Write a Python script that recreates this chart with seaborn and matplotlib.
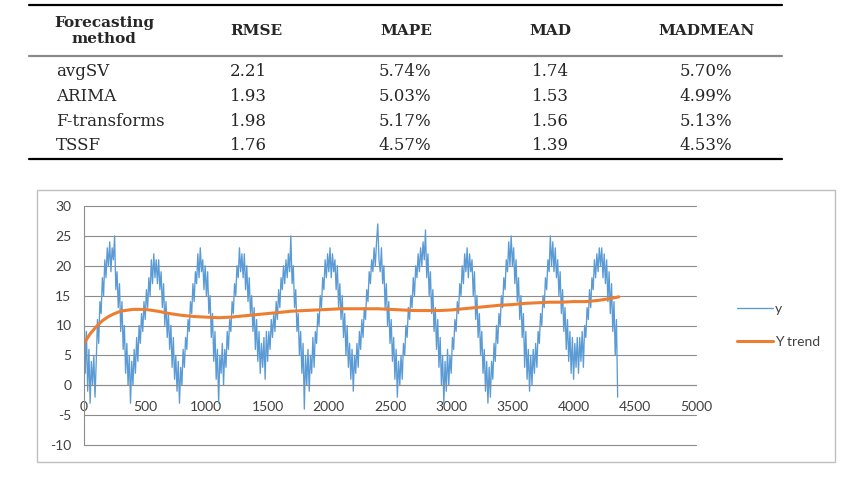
import matplotlib
matplotlib.use("Agg")
import matplotlib.pyplot as plt
from matplotlib.patches import Rectangle
import numpy as np
import pandas as pd
import seaborn as sns

# ---------------- table data ----------------
headers = ["Forecasting\nmethod", "RMSE", "MAPE", "MAD", "MADMEAN"]
methods = ["avgSV", "ARIMA", "F-transforms", "TSSF"]
rmse = ["2.21", "1.93", "1.98", "1.76"]
mape = ["5.74%", "5.03%", "5.17%", "4.57%"]
mad = ["1.74", "1.53", "1.56", "1.39"]
madmean = ["5.70%", "4.99%", "5.13%", "4.53%"]

# ---------------- chart data ----------------
# y every 10 steps (0 .. 4360), one row per 100 steps
step = 10
y_values = [
    13, 2, 9, -1, 6, -3, 4, 0, 5, -2,
    4, 11, 7, 14, 12, 18, 15, 21, 18, 23,
    20, 24, 19, 23, 21, 25, 16, 19, 13, 17,
    9, 14, 6, 10, 2, 7, 0, 5, -3, 4,
    0, 6, 2, 8, 4, 10, 7, 12, 9, 14,
    11, 16, 13, 18, 15, 21, 17, 22, 18, 21,
    17, 21, 16, 19, 13, 17, 10, 14, 8, 12,
    6, 10, 3, 8, 1, 5, -1, 4, -3, 3,
    0, 6, 3, 8, 6, 11, 9, 14, 12, 17,
    14, 19, 17, 22, 18, 23, 19, 21, 16, 20,
    15, 19, 12, 15, 8, 12, 4, 9, 1, 6,
    -3, 5, 2, 7, 0, 6, 3, 9, 6, 11,
    9, 14, 12, 17, 15, 20, 18, 23, 19, 22,
    18, 22, 16, 20, 14, 18, 12, 15, 9, 13,
    6, 11, 4, 9, 2, 7, 3, 8, 1, 9,
    4, 9, 6, 11, 8, 12, 9, 14, 11, 16,
    13, 18, 16, 20, 17, 21, 18, 22, 19, 25,
    17, 20, 13, 16, 9, 12, 5, 9, 2, 7,
    -4, 5, 0, 6, -1, 5, 2, 8, 3, 9,
    7, 12, 10, 15, 13, 18, 16, 21, 18, 22,
    19, 23, 18, 22, 19, 21, 16, 20, 13, 17,
    11, 15, 8, 12, 5, 10, 3, 7, 1, 6,
    -1, 5, 2, 7, 3, 9, 6, 11, 8, 13,
    11, 16, 14, 19, 17, 21, 19, 23, 20, 24,
    27, 21, 19, 23, 17, 20, 13, 17, 10, 14,
    7, 11, 4, 8, 1, 6, -2, 4, 0, 5,
    1, 7, 5, 10, 8, 13, 11, 15, 13, 18,
    15, 20, 18, 22, 19, 23, 20, 24, 21, 26,
    18, 22, 15, 19, 12, 16, 9, 13, 6, 11,
    3, 8, 0, 5, -3, 4, -1, 6, 0, 5,
    2, 8, 6, 11, 9, 14, 12, 17, 15, 20,
    17, 22, 19, 23, 18, 22, 19, 21, 15, 19,
    11, 15, 8, 12, 5, 9, 2, 6, -1, 4,
    -3, 3, -2, 4, 1, 7, 4, 10, 7, 12,
    10, 15, 13, 18, 16, 21, 19, 24, 20, 25,
    20, 23, 17, 21, 14, 18, 11, 15, 8, 12,
    3, 9, 1, 6, -1, 5, 0, 6, 2, 7,
    3, 9, 7, 12, 10, 15, 13, 18, 16, 21,
    19, 25, 20, 24, 19, 23, 18, 21, 15, 19,
    12, 16, 9, 13, 6, 11, 4, 9, 2, 8,
    1, 7, 3, 8, 2, 8, 4, 9, 3, 10,
    8, 13, 11, 16, 13, 18, 16, 21, 18, 22,
    19, 23, 20, 23, 18, 22, 17, 21, 14, 19,
    12, 17, 9, 14, 5, 11, -2,
]
x_values = np.arange(len(y_values)) * step

trend_x = [0, 50, 100, 150, 200, 250, 300, 400, 500, 600, 700, 800, 900, 1000,
           1100, 1200, 1300, 1400, 1500, 1600, 1700, 1800, 1900, 2000, 2100,
           2200, 2300, 2400, 2500, 2600, 2700, 2800, 2900, 3000, 3100, 3200,
           3300, 3400, 3500, 3600, 3700, 3800, 3900, 4000, 4100, 4200, 4300, 4370]
trend_y = [7.0, 8.6, 9.8, 10.8, 11.5, 12.0, 12.4, 12.7, 12.7, 12.4, 12.0, 11.7,
           11.5, 11.4, 11.3, 11.4, 11.6, 11.8, 12.0, 12.2, 12.4, 12.5, 12.6,
           12.7, 12.8, 12.8, 12.8, 12.8, 12.7, 12.6, 12.5, 12.5, 12.5, 12.6,
           12.8, 13.0, 13.2, 13.4, 13.5, 13.7, 13.8, 13.9, 13.9, 14.0, 14.0,
           14.2, 14.5, 14.8]

df_y = pd.DataFrame({"x": x_values, "y": y_values})
df_t = pd.DataFrame({"x": trend_x, "y": trend_y})

sns.set_style("white")
plt.rcParams["font.family"] = ["Lato", "DejaVu Sans"]
plt.rcParams["axes.unicode_minus"] = False

W, H = 850, 478
fig = plt.figure(figsize=(W / 100, H / 100), dpi=100)

# ---------------- table (pixel coordinates) ----------------
tab = fig.add_axes([0, 0, 1, 1])
tab.set_xlim(0, W)
tab.set_ylim(H, 0)
tab.axis("off")
serif = ["DejaVu Serif"]
tab.plot([29, 782], [5, 5], color="black", lw=1.6)
tab.plot([29, 782], [56, 56], color="#8a8a8a", lw=1.6)
tab.plot([29, 782], [159, 159], color="black", lw=1.6)

head_x = [104, 256, 406, 550, 707]
for hx, h in zip(head_x, headers):
    tab.text(hx, 31, h, ha="center", va="center", family=serif,
             fontweight="bold", fontsize=11, linespacing=1.25)

row_y = [71, 96, 121, 146]
for i, ry in enumerate(row_y):
    tab.text(56, ry, methods[i], ha="left", va="center", family=serif, fontsize=12)
    tab.text(230, ry, rmse[i], ha="left", va="center", family=serif, fontsize=12)
    tab.text(405, ry, mape[i], ha="center", va="center", family=serif, fontsize=12)
    tab.text(532, ry, mad[i], ha="left", va="center", family=serif, fontsize=12)
    tab.text(706, ry, madmean[i], ha="center", va="center", family=serif, fontsize=12)

# chart border
fig.patches.append(Rectangle((37 / W, 1 - 462 / H), (835 - 37) / W, (462 - 190) / H,
                             transform=fig.transFigure, fill=False,
                             ec="#bfbfbf", lw=1))

# ---------------- line chart ----------------
ax = fig.add_axes([84 / W, 1 - 445 / H, (696 - 84) / W, (445 - 206) / H])
blue = "#5b9bd5"
orange = "#ed7d31"
sns.lineplot(data=df_y, x="x", y="y", ax=ax, color=blue, lw=0.95,
             estimator=None, label="y")
sns.lineplot(data=df_t, x="x", y="y", ax=ax, color=orange, lw=2.2,
             estimator=None, label="Y trend")

ax.set_xlim(0, 5000)
ax.set_ylim(-10, 30)
ax.set_xticks(range(0, 5001, 500))
ax.set_yticks(range(-10, 31, 5))
ax.set_xlabel("")
ax.set_ylabel("")
grid_c = "#8c8c8c"
ax.yaxis.grid(True, color=grid_c, lw=0.8)
for gl in ax.get_ygridlines():
    gl.set_clip_on(False)
ax.set_axisbelow(True)
for s in ["top", "right"]:
    ax.spines[s].set_visible(False)
ax.spines["left"].set_color(grid_c)
ax.spines["left"].set_linewidth(0.8)
ax.spines["bottom"].set_position(("data", 0))
ax.spines["bottom"].set_color(grid_c)
ax.spines["bottom"].set_linewidth(0.8)
ax.tick_params(axis="both", direction="out", length=4, width=0.8, color=grid_c,
               labelsize=10, labelcolor="#404040")
ax.tick_params(axis="x", pad=7)
ax.tick_params(axis="y", pad=5)

leg = ax.legend(loc="center left", bbox_to_anchor=(1.047, 0.5), frameon=False,
                handlelength=2.6, handletextpad=0.1, labelspacing=1.5,
                fontsize=10)
for t in leg.get_texts():
    t.set_color("#404040")

fig.savefig("out.png", dpi=100)
